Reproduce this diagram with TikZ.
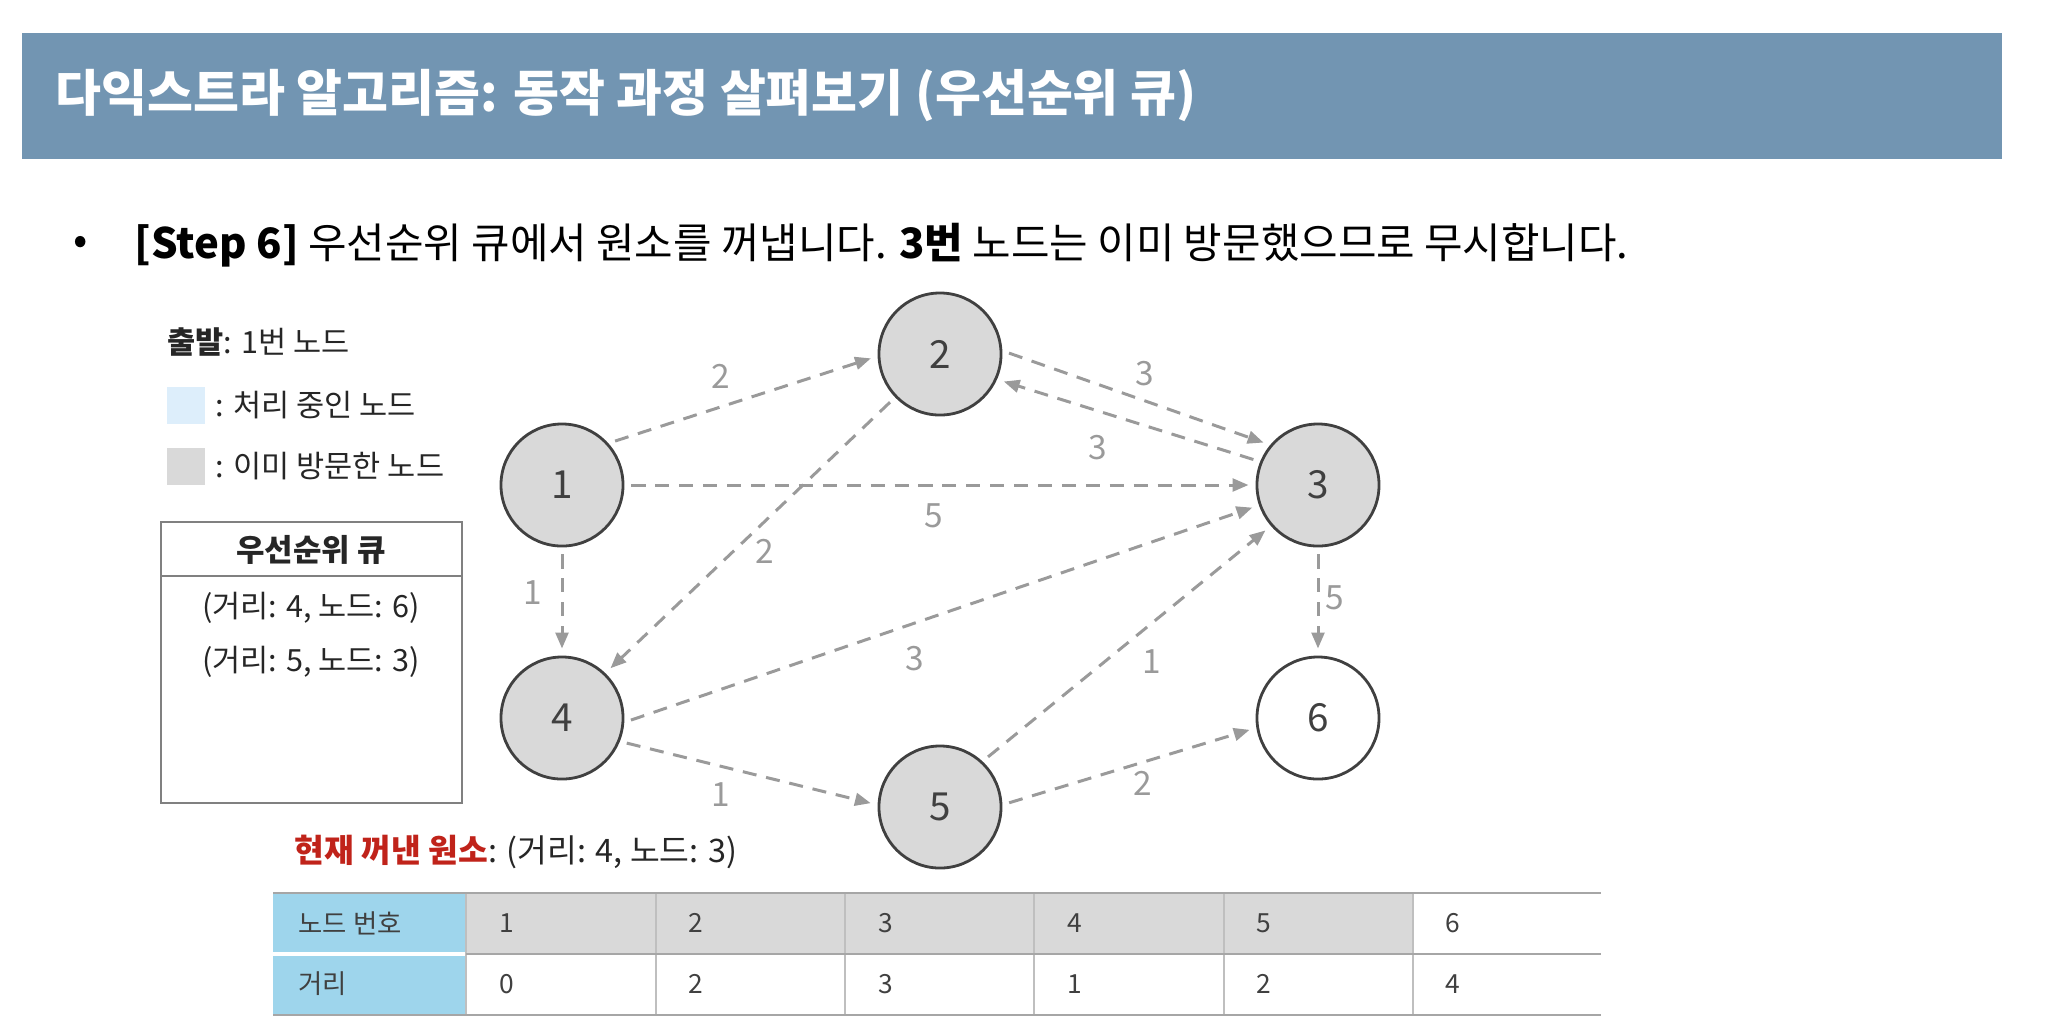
\documentclass[tikz,border=0pt]{standalone}
\usepackage{fontspec}
\setmainfont{Noto Sans CJK KR}
\usetikzlibrary{positioning,arrows.meta}

\definecolor{titlebar}{HTML}{7295B2}
\definecolor{nodegray}{HTML}{D9D9D9}
\definecolor{working}{HTML}{DDEEFB}
\definecolor{headcol}{HTML}{9ED5EC}
\definecolor{popred}{HTML}{C0231A}
\definecolor{edgegray}{HTML}{9A9A9A}
\definecolor{inkgray}{HTML}{404040}

\begin{document}
\begin{tikzpicture}[
    x=0.01cm, y=-0.01cm,
    gnode/.style={circle, draw=inkgray, line width=0.8pt, minimum size=1.22cm, inner sep=0pt, text=inkgray, font=\fontsize{11}{13}\selectfont},
    seen/.style={gnode, fill=nodegray},
    fresh/.style={gnode, fill=white},
    link/.style={draw=edgegray, line width=0.85pt, dash pattern=on 4pt off 2.8pt, -{Triangle[length=4.5pt, width=3.6pt]}, shorten <=2pt, shorten >=2pt},
    wlab/.style={text=edgegray, inner sep=0pt, font=\fontsize{9.5}{11}\selectfont},
    legend/.style={anchor=west, inner sep=0pt, text=black!85, font=\fontsize{8.7}{11}\selectfont},
    swatch/.style={minimum size=0.37cm, inner sep=0pt},
    tabtext/.style={anchor=west, inner sep=0pt, text=inkgray, font=\fontsize{7.5}{9}\selectfont},
    tabthick/.style={draw=black!35, line width=0.8pt},
    tabthin/.style={draw=black!25, line width=0.4pt}
]
\useasboundingbox (0,0) rectangle (2048,1029);

% title and step line
\fill[titlebar] (22,33) rectangle (2002,159);
\node[anchor=west, inner sep=0pt, text=white, font=\fontsize{14.2}{17}\selectfont\bfseries] (title) at (55,96)
    {다익스트라 알고리즘: 동작 과정 살펴보기 (우선순위 큐)};
\node[inner sep=0pt, font=\fontsize{12}{14}\selectfont] (dot) at (81,245) {•};
\node[anchor=west, inner sep=0pt, font=\fontsize{11.9}{14}\selectfont] (step) at (134,245)
    {\textbf{[Step 6]} 우선순위 큐에서 원소를 꺼냅니다. \textbf{3번} 노드는 이미 방문했으므로 무시합니다.};

% legend
\node[legend] (start) at (167,342) {\textbf{출발}: 1번 노드};
\node[swatch, fill=working] (sw1) at (186,405) {};
\node[legend, right=0.1cm of sw1] (lg1) {: 처리 중인 노드};
\node[swatch, fill=nodegray] (sw2) at (186,466) {};
\node[legend, right=0.1cm of sw2] (lg2) {: 이미 방문한 노드};

% priority queue
\draw[draw=black!50, line width=0.8pt] (161,522) rectangle (462,803);
\draw[draw=black!50, line width=0.8pt] (161,576) -- (462,576);
\node[legend, anchor=center, font=\fontsize{8.8}{11}\selectfont\bfseries] (qhead) at (311,550) {우선순위 큐};
\node[legend, anchor=center] (q1) at (311,608) {(거리: 4, 노드: 6)};
\node[legend, anchor=center] (q2) at (311,662) {(거리: 5, 노드: 3)};

% graph
\node[seen] (n1) at (562,485) {1};
\node[seen] (n2) at (940,354) {2};
\node[seen] (n3) at (1318,485) {3};
\node[seen] (n4) at (562,718) {4};
\node[seen] (n5) at (940,807) {5};
\node[fresh] (n6) at (1318,718) {6};

\draw[link] (n1.42) -- node[wlab, pos=.45, xshift=-0.09cm, yshift=0.28cm] {2} (n2.182);
\draw[link] (n2.3) -- node[wlab, pos=.5, xshift=0.08cm, yshift=0.24cm] {3} (n3.140);
\draw[link] (n3.158) -- node[wlab, pos=.58, xshift=-0.1cm, yshift=-0.34cm] {3} (n2.-24);
\draw[link] (n1.0) -- node[wlab, pos=.49, yshift=-0.31cm] {5} (n3.180);
\draw[link] (n2.224) -- node[wlab, pos=.5, xshift=0.15cm, yshift=-0.16cm] {2} (n4.46);
\draw[link] (n1.270) -- node[wlab, pos=.42, xshift=-0.29cm] {1} (n4.90);
\draw[link] (n4.-4) -- node[wlab, pos=.44, xshift=0.11cm, yshift=-0.32cm] {3} (n3.199);
\draw[link] (n3.270) -- node[wlab, pos=.47, xshift=0.17cm] {5} (n6.90);
\draw[link] (n5.47) -- node[wlab, pos=.52, xshift=0.19cm, yshift=-0.23cm] {1} (n3.221);
\draw[link] (n4.-22) -- node[wlab, pos=.42, xshift=-0.07cm, yshift=-0.27cm] {1} (n5.178);
\draw[link] (n5.2) -- node[wlab, pos=.53, xshift=0.06cm, yshift=-0.19cm] {2} (n6.189);

% popped element
\node[legend, font=\fontsize{9.2}{11}\selectfont] (popped) at (294,852) {\textcolor{popred}{\textbf{현재 꺼낸 원소}}: (거리: 4, 노드: 3)};

% distance table
\fill[headcol] (273,893) rectangle (466,1015);
\fill[nodegray] (466,893) rectangle (1413,954);
\draw[white, line width=1pt] (273,954) -- (466,954);
\foreach \x in {466,656,845,1034,1224,1413}
    \draw[tabthin] (\x,893) -- (\x,1015);
\draw[tabthick] (273,893) -- (1601,893);
\draw[tabthick] (466,954) -- (1601,954);
\draw[tabthick] (273,1015) -- (1601,1015);
\node[tabtext] (hrow) at (298,923) {노드 번호};
\node[tabtext] (drow) at (298,984) {거리};
\foreach \d [count=\i] in {0,2,3,1,2,4} {
    \node[tabtext] (num\i) at ({466+(\i-1)*189.2+33},923) {\i};
    \node[tabtext] (dist\i) at ({466+(\i-1)*189.2+33},984) {\d};
}

\end{tikzpicture}
\end{document}
